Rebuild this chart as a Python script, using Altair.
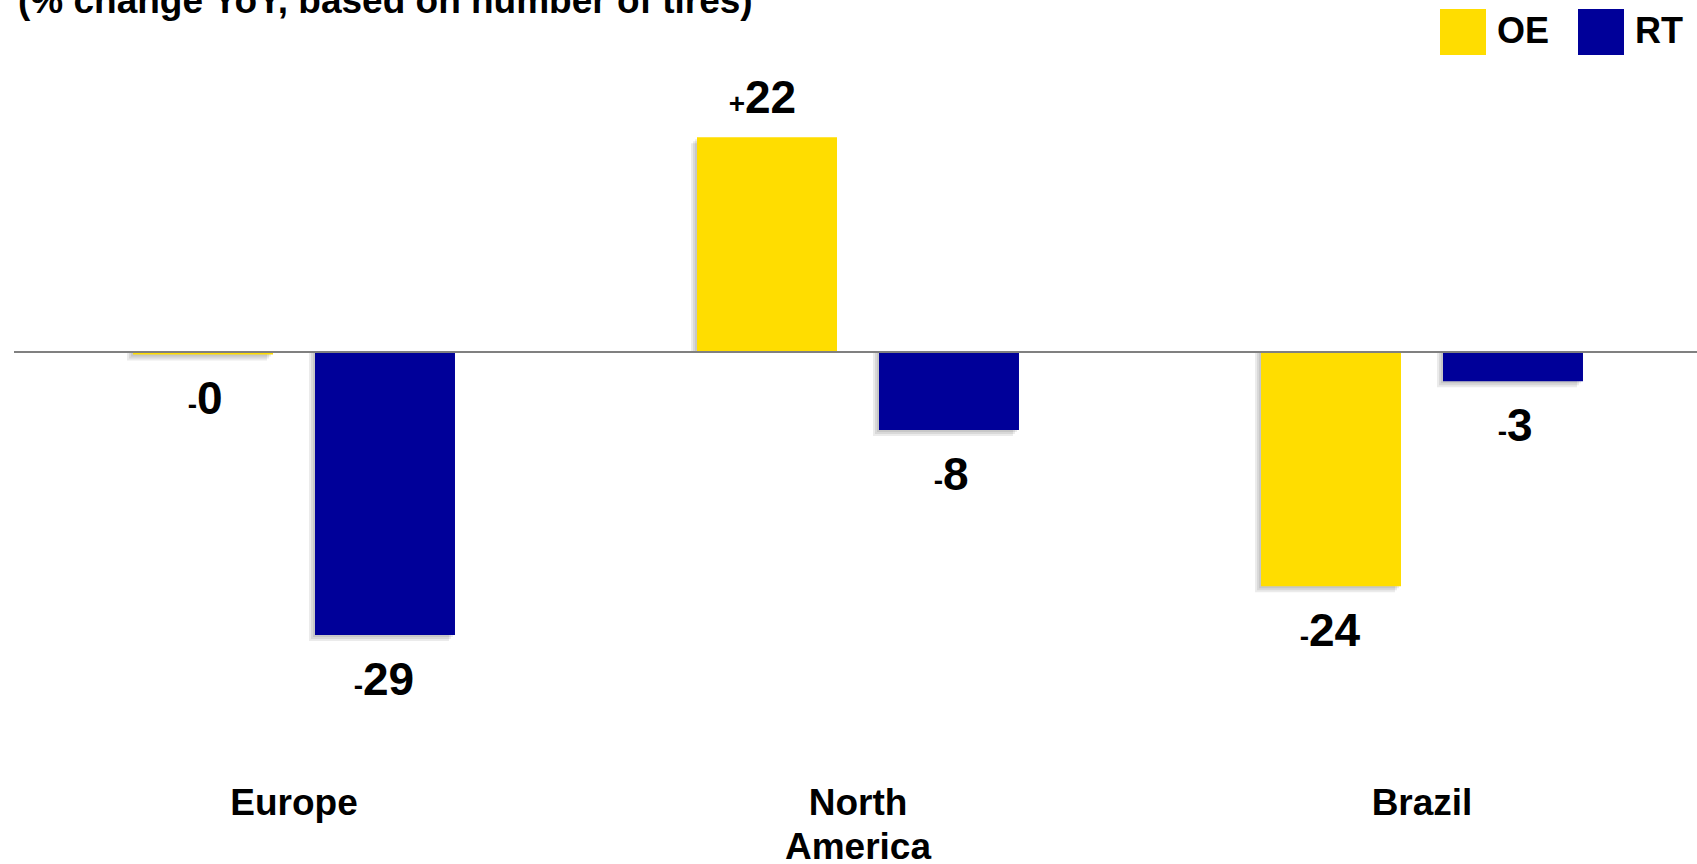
import altair as alt
import pandas as pd

# Year-on-year change in tire sales by region (%)
regions = ["Europe", "North America", "Brazil"]
series = ["OE", "RT"]
oe_change = [-0.25, 22, -24]
rt_change = [-29, -8, -3]
series_colors = ["#FFDD00", "#000099"]
subtitle = "(% change YoY, based on number of tires)"

FONT = "Liberation Sans"

rows = []
for r, oe, rt in zip(regions, oe_change, rt_change):
    rows.append({"region": r, "series": "OE", "value": oe})
    rows.append({"region": r, "series": "RT", "value": rt})
df = pd.DataFrame(rows)

W, H = 1683, 770
PX_PER_UNIT = 9.76
ZERO_Y = 352
y_dom = [-(H - ZERO_Y) / PX_PER_UNIT, ZERO_Y / PX_PER_UNIT]
BAND = 564  # pixel width of one region's band

x_enc = alt.X(
    "region:N",
    sort=regions,
    scale=alt.Scale(range=[-2, -2 + 3 * BAND], paddingInner=0, paddingOuter=0),
    axis=alt.Axis(
        title=None, domain=False, ticks=False, labelAngle=0,
        labelFont=FONT, labelFontSize=37, labelFontWeight="bold",
        labelColor="black", labelPadding=15, labelLineHeight=44,
        labelExpr="datum.label == 'North America' ? ['North', 'America'] : datum.label",
    ),
)


def xoff_enc(shift=0):
    return alt.XOffset(
        "series:N",
        scale=alt.Scale(
            type="band", domain=series, paddingInner=0.2308, paddingOuter=0.6649,
            range=[-shift, BAND - shift],
        ),
    )


y_enc = alt.Y("value:Q", scale=alt.Scale(domain=y_dom, nice=False, zero=False), axis=None)

base = alt.Chart(df)

# soft drop shadow built from a few offset translucent copies
shadows = [
    base.mark_bar(color="black", opacity=0.08, yOffset=k).encode(
        x=x_enc, xOffset=xoff_enc(k), y=y_enc, y2=alt.datum(0)
    )
    for k in (2, 4, 6)
]

bars = base.mark_bar().encode(
    x=x_enc,
    xOffset=xoff_enc(),
    y=y_enc,
    y2=alt.datum(0),
    color=alt.Color(
        "series:N",
        scale=alt.Scale(domain=series, range=series_colors),
        legend=alt.Legend(
            title=None, orient="none", legendX=1426, legendY=9,
            direction="horizontal", symbolType="square", symbolSize=2116,
            symbolStrokeWidth=0, symbolOpacity=1, labelFont=FONT,
            labelFontSize=36, labelFontWeight="bold", labelColor="black",
            labelOffset=11, columnPadding=28, padding=0,
        ),
    ),
)

# value labels: a small sign followed by the large magnitude
lab = base.transform_calculate(
    sign="datum.value < 0 ? '-' : '+'",
    num="format(abs(datum.value), '.0f')",
).transform_calculate(nd="length(datum.num)")

label_layers = []
for positive in (True, False):
    for wide in (True, False):
        dy = -24 if positive else 60
        dx = -22 if wide else -6
        sub = lab.transform_filter(
            ("datum.value >= 0" if positive else "datum.value < 0")
            + (" && datum.nd > 1" if wide else " && datum.nd <= 1")
        )
        label_layers.append(
            sub.mark_text(
                align="left", baseline="alphabetic", dx=dx, dy=dy,
                font=FONT, fontSize=46, fontWeight="bold", color="black",
            ).encode(x=x_enc, xOffset=xoff_enc(), y=y_enc, text="num:N")
        )
        label_layers.append(
            sub.mark_text(
                align="right", baseline="alphabetic", dx=dx, dy=dy,
                font=FONT, fontSize=28, fontWeight="bold", color="black",
            ).encode(x=x_enc, xOffset=xoff_enc(), y=y_enc, text="sign:N")
        )

zero_line = alt.Chart(alt.Data(values=[{"z": 0}])).mark_rule(
    color="#808080", strokeWidth=2
).encode(y=alt.Y("z:Q", scale=alt.Scale(domain=y_dom, nice=False, zero=False), axis=None))

heading = alt.Chart(alt.Data(values=[{"t": subtitle}])).mark_text(
    align="left", baseline="alphabetic", font=FONT, fontSize=37,
    fontWeight="bold", color="black",
).encode(x=alt.value(4), y=alt.value(13), text="t:N")

chart = alt.layer(
    *shadows, bars, zero_line, *label_layers, heading
).resolve_scale(
    xOffset="independent"
).properties(
    width=W,
    height=H,
    background="white",
    autosize=alt.AutoSizeParams(type="none"),
    padding={"left": 14, "top": 0, "right": 0, "bottom": 94},
).configure_view(stroke=None)

chart.save("out.html", embed_options={"renderer": "svg", "actions": False})
